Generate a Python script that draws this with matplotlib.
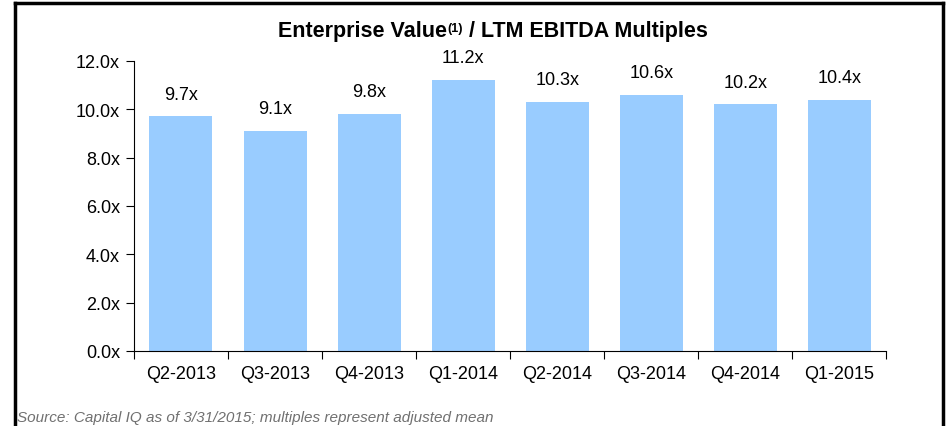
import matplotlib
matplotlib.use("Agg")
from matplotlib import pyplot as plt
from matplotlib.lines import Line2D

# quarterly EV / LTM EBITDA multiples
quarters = ['Q2-2013', 'Q3-2013', 'Q4-2013', 'Q1-2014', 'Q2-2014', 'Q3-2014', 'Q4-2014', 'Q1-2015']
multiples = [9.7, 9.1, 9.8, 11.2, 10.3, 10.6, 10.2, 10.4]
yticks = [0, 2, 4, 6, 8, 10, 12]

plt.rcParams['font.family'] = ['Liberation Sans', 'DejaVu Sans']

fig = plt.figure(figsize=(9.5, 4.27), dpi=100)
ax = fig.add_axes([0.141, 0.176, 0.792, 0.679])

x = range(len(quarters))
ax.bar(x, multiples, width=0.67, color='#99ccff')
for i, v in enumerate(multiples):
    ax.annotate('%.1fx' % v, (i, v), xytext=(0, 10), textcoords='offset points',
                ha='center', va='bottom', fontsize=13)

ax.set_xlim(-0.5, len(quarters) - 0.5)
ax.set_ylim(0, 12)
ax.set_yticks(yticks)
ax.set_yticklabels(['%.1fx' % t for t in yticks], fontsize=13)
ax.set_xticks([i - 0.5 for i in range(len(quarters) + 1)])
ax.set_xticklabels([])
ax.set_xticks(list(x), minor=True)
ax.set_xticklabels(quarters, minor=True, fontsize=13)
ax.tick_params(axis='x', which='minor', length=0, pad=10)
ax.tick_params(axis='x', which='major', length=6, direction='out')
ax.tick_params(axis='y', length=6, direction='out', pad=4)
ax.spines['top'].set_visible(False)
ax.spines['right'].set_visible(False)

# title in three pieces so the (1) can be a small superscript
renderer = fig.canvas.get_renderer()
parts = [('Enterprise Value', 15.5, 0), ('(1)', 9, 5), (' / LTM EBITDA Multiples', 15.5, 0)]
texts = []
for s, size, rise in parts:
    t = fig.text(0, 0.93, s, fontsize=size, fontweight='bold', va='baseline')
    texts.append(t)
widths = [t.get_window_extent(renderer).width for t in texts]
left = 493 - sum(widths) / 2
base = 427 - 37
for t, w, (s, size, rise) in zip(texts, widths, parts):
    t.set_position((left / 950, (base + rise) / 427))
    left += w

fig.text(0.018, 0.022, 'Source: Capital IQ as of 3/31/2015; multiples represent adjusted mean',
         ha='left', va='center', fontsize=11, style='italic', color='#707070')

# box around the chart
fig.add_artist(Line2D([0.016, 0.016], [0, 0.99], color='black', lw=2.5))
fig.add_artist(Line2D([0.016, 0.993], [0.99, 0.99], color='black', lw=2.5))
fig.add_artist(Line2D([0.993, 0.993], [0, 0.99], color='black', lw=2.5))

fig.savefig('out.png', dpi=100)
